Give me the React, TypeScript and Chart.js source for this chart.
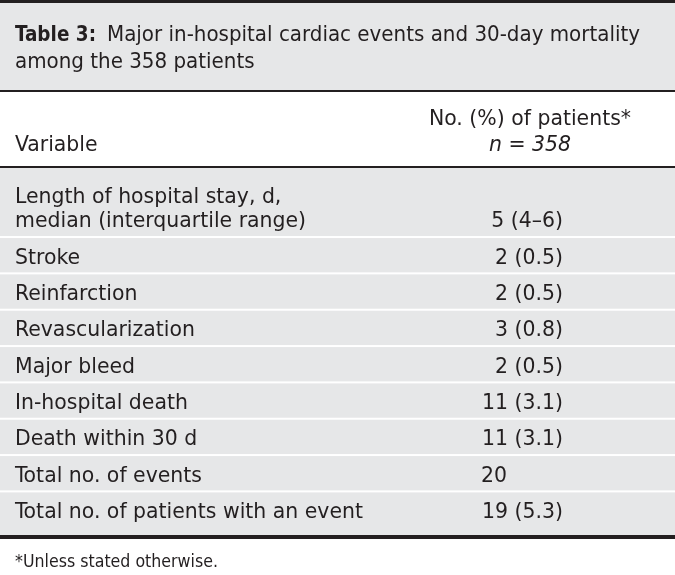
import React, { useEffect, useRef } from "react";
import { Chart, registerables } from "chart.js";

Chart.register(...registerables);

// ---- Data ----
const titleLabel = "Table 3:";
const titleLines = [
  "Major in-hospital cardiac events and 30-day mortality",
  "among the 358 patients",
];
const headerVariable = "Variable";
const headerValueLines = ["No. (%) of patients*", "n = 358"];
const variables: string[][] = [
  ["Length of hospital stay, d,", "median (interquartile range)"],
  ["Stroke"],
  ["Reinfarction"],
  ["Revascularization"],
  ["Major bleed"],
  ["In-hospital death"],
  ["Death within 30 d"],
  ["Total no. of events"],
  ["Total no. of patients with an event"],
];
const counts = [5, 2, 2, 3, 2, 11, 11, 20, 19];
const details = ["(4–6)", "(0.5)", "(0.5)", "(0.8)", "(0.5)", "(3.1)", "(3.1)", "", "(5.3)"];
const footnote = "*Unless stated otherwise.";

// ---- Styles ----
const FONT = "'DejaVu Sans Condensed', 'Liberation Sans Narrow', 'DejaVu Sans', sans-serif";
const INK = "#231f20";
const GREY = "#e6e7e8";
const W = 675;
const H = 575;
const BODY_TEXT_WIDTH = 348; // rendered width of the longest row label
const TITLE_TEXT_WIDTH = 533;
const FOOT_TEXT_WIDTH = 203;

const rowSpans = variables.map((l) => 1 + (l.length - 1) * 0.9);
const lastPad = 0.2;
const totalUnits = rowSpans.reduce((a, b) => a + b, 0) + lastPad;

function txt(ctx: CanvasRenderingContext2D, s: string, x: number, y: number, font: string, align: CanvasTextAlign = "left", sx = 1) {
  ctx.save();
  ctx.font = font;
  ctx.fillStyle = INK;
  ctx.textBaseline = "alphabetic";
  ctx.textAlign = align;
  ctx.translate(x, y);
  ctx.scale(sx, 1);
  ctx.fillText(s, 0, 0);
  ctx.restore();
}

function measure(ctx: CanvasRenderingContext2D, s: string, font: string) {
  ctx.save();
  ctx.font = font;
  const w = ctx.measureText(s).width;
  ctx.restore();
  return w;
}

const tablePlugin = {
  id: "tableDraw",
  afterDraw(chart: any) {
    const ctx: CanvasRenderingContext2D = chart.ctx;
    const y = chart.scales.y;
    const area = chart.chartArea;
    const unit = Math.abs(y.getPixelForValue(1) - y.getPixelForValue(0));
    const body = `21.5px ${FONT}`;
    const bold = `bold 21.5px ${FONT}`;
    const ital = `italic 21.5px ${FONT}`;
    const foot = `17.5px ${FONT}`;
    const SX = BODY_TEXT_WIDTH / measure(ctx, variables[variables.length - 1][0], body);
    const TSX = TITLE_TEXT_WIDTH / measure(ctx, titleLines[0], body);
    const FSX = FOOT_TEXT_WIDTH / measure(ctx, footnote, foot);

    ctx.save();
    ctx.fillStyle = "#ffffff";
    ctx.fillRect(0, 0, W, H);
    ctx.fillStyle = INK;
    ctx.fillRect(0, 0, W, 3);
    ctx.fillStyle = GREY;
    ctx.fillRect(0, 3, W, 87);
    ctx.fillStyle = INK;
    ctx.fillRect(0, 90, W, 2);
    ctx.fillRect(0, 166, W, 2);
    ctx.fillStyle = GREY;
    ctx.fillRect(0, area.top, W, area.bottom - area.top);
    let acc = 0;
    const tops: number[] = [];
    rowSpans.forEach((s, i) => {
      tops.push(y.getPixelForValue(acc));
      acc += s;
      if (i < rowSpans.length - 1) {
        const b = y.getPixelForValue(acc);
        ctx.fillStyle = "#ffffff";
        ctx.fillRect(0, b - 1, W, 2);
      }
    });
    ctx.fillStyle = INK;
    ctx.fillRect(0, area.bottom, W, 4);
    ctx.restore();

    // title
    const boldW = measure(ctx, titleLabel, bold);
    txt(ctx, titleLabel, 15, 41, bold, "left", 81 / boldW);
    txt(ctx, titleLines[0], 107, 41, body, "left", TSX);
    txt(ctx, titleLines[1], 15, 68, body, "left", TSX);

    // header
    txt(ctx, headerVariable, 15, 151, body, "left", SX);
    txt(ctx, headerValueLines[0], 530, 125, body, "center", SX);
    txt(ctx, headerValueLines[1], 530, 151, ital, "center", SX);

    // rows
    variables.forEach((lines, i) => {
      const top = tops[i];
      const lastBase = top + (rowSpans[i] - 0.27) * unit;
      lines.forEach((ln, k) => {
        const yb = lastBase - (lines.length - 1 - k) * 0.66 * unit;
        txt(ctx, ln, 15, yb, body, "left", SX);
      });
      if (details[i]) txt(ctx, `${counts[i]} ${details[i]}`, 563, lastBase, body, "right", SX);
      else txt(ctx, `${counts[i]}`, 481, lastBase, body, "left", SX);
    });

    txt(ctx, footnote, 15, 567, foot, "left", FSX);
  },
};

export default function App() {
  const ref = useRef<HTMLCanvasElement | null>(null);
  useEffect(() => {
    document.body.style.margin = "0";
    const canvas = ref.current!;
    const chart = new Chart(canvas, {
      type: "scatter",
      data: { datasets: [] },
      options: {
        responsive: false,
        animation: false,
        devicePixelRatio: 1,
        layout: { padding: { top: 168, bottom: 40, left: 0, right: 0 } },
        plugins: { legend: { display: false }, tooltip: { enabled: false } },
        scales: {
          x: { type: "linear", display: false, min: 0, max: 1 },
          y: { type: "linear", display: false, min: 0, max: totalUnits, reverse: true },
        },
      },
      plugins: [tablePlugin],
    });
    return () => chart.destroy();
  }, []);
  return (
    <div style={{ position: "fixed", left: 0, top: 0, width: W, height: H, background: "#fff" }}>
      <canvas ref={ref} width={W} height={H} style={{ display: "block", width: W, height: H }} />
    </div>
  );
}
